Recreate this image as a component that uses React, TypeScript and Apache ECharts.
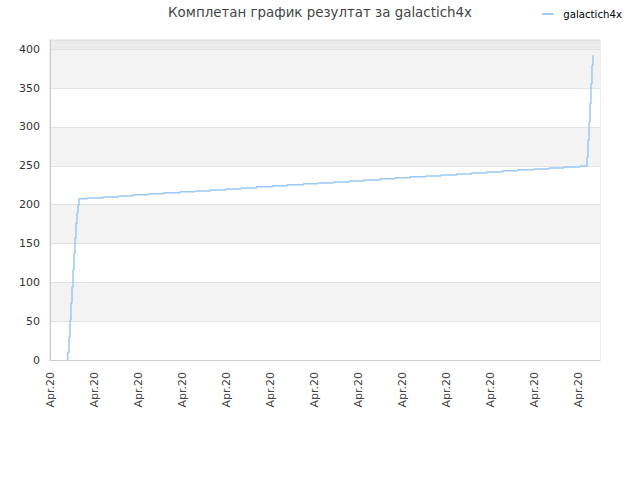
import React, { useEffect, useRef } from "react";
import * as echarts from "echarts";

const seriesName = "galactich4x";
const titleText = "Комплетан график резултат за galactich4x";
const tickLabel = "Apr.20";

// x positions (axis units, one unit per "Apr.20" tick) and cumulative values
const xs = [
  0.402, 0.402, 0.432, 0.455, 0.477, 0.5, 0.523, 0.545, 0.568, 0.591, 0.614, 0.636, 0.659,
  0.848, 1.205, 1.552, 1.893, 2.25, 2.591, 2.955, 3.295, 3.636, 3.993, 4.341, 4.698,
  5.052, 5.393, 5.757, 6.098, 6.439, 6.795, 7.143, 7.5, 7.841, 8.182, 8.545, 8.886,
  9.243, 9.584, 9.925, 10.289, 10.63, 11.0, 11.341, 11.682, 12.045,
  12.205, 12.227, 12.25, 12.273, 12.295, 12.318, 12.341,
];
const ys = [
  0, 10, 29.6, 51.4, 73.3, 93.9, 115.8, 137.6, 156.9, 176.2, 189.1, 199.4, 207.5,
  208.6, 210.0, 211.3, 212.6, 213.9, 215.2, 216.5, 217.7, 219.0, 220.3, 221.6, 222.9,
  224.2, 225.5, 226.8, 228.0, 229.3, 230.6, 231.9, 233.2, 234.5, 235.8, 237.0, 238.3,
  239.6, 240.9, 242.2, 243.5, 244.8, 246.0, 247.3, 248.6, 249.9,
  261.5, 283, 306.5, 330.2, 355.9, 379.4, 392.3,
];

const xMin = 0;
const xMax = 12.5;
const yMin = 0;
const yMax = 412;

export default function App() {
  const ref = useRef<HTMLDivElement>(null);
  useEffect(() => {
    if (!ref.current) return;
    const chart = echarts.init(ref.current, null, { renderer: "svg" });
    const data = xs.map((x, i) => [x, ys[i]]);
    chart.setOption({
      animation: false,
      textStyle: { fontFamily: "DejaVu Sans" },
      title: {
        text: titleText,
        left: "center",
        top: 1,
        textStyle: { fontSize: 13.4, fontWeight: "normal", color: "#444", fontFamily: "DejaVu Sans" },
      },
      legend: {
        right: 13,
        top: 4,
        itemWidth: 11,
        itemHeight: 2,
        itemGap: 6,
        textStyle: { fontSize: 10.2, color: "#000", fontFamily: "DejaVu Sans", padding: [0, 0, 0, 5] },
        data: [{ name: seriesName, icon: "rect" }],
      },
      grid: {
        left: 50,
        right: 40,
        top: 40,
        bottom: 120,
        show: true,
        borderColor: "#dddddd",
        borderWidth: 1,
        backgroundColor: "transparent",
      },
      xAxis: {
        type: "value",
        min: xMin,
        max: xMax,
        interval: 1,
        axisLine: { show: true, lineStyle: { color: "#cccccc" } },
        axisTick: { show: false },
        splitLine: { show: false },
        axisLabel: {
          rotate: 90,
          fontSize: 11,
          color: "#444",
          margin: 12,
          showMaxLabel: false,
          formatter: () => tickLabel,
        },
      },
      yAxis: {
        type: "value",
        min: yMin,
        max: yMax,
        interval: 50,
        axisLine: { show: true, lineStyle: { color: "#cccccc" } },
        axisTick: { show: false },
        axisLabel: { fontSize: 11, color: "#333", margin: 10, showMaxLabel: false },
        splitLine: { show: true, lineStyle: { color: "#e2e2e2" } },
        splitArea: {
          show: true,
          areaStyle: {
            color: [
              "#ffffff", "#f3f3f3", "#ffffff", "#f3f3f3", "#ffffff",
              "#f3f3f3", "#ffffff", "#f3f3f3", "#ececec",
            ],
          },
        },
      },
      series: [
        {
          name: seriesName,
          type: "line",
          step: "end",
          symbol: "none",
          data,
          lineStyle: { color: "#99c9f6", width: 1.5 },
          itemStyle: { color: "#99c9f6" },
        },
      ],
    });
    return () => chart.dispose();
  }, []);
  return (
    <div
      ref={ref}
      style={{ position: "absolute", left: 0, top: 0, width: 640, height: 480 }}
    />
  );
}
